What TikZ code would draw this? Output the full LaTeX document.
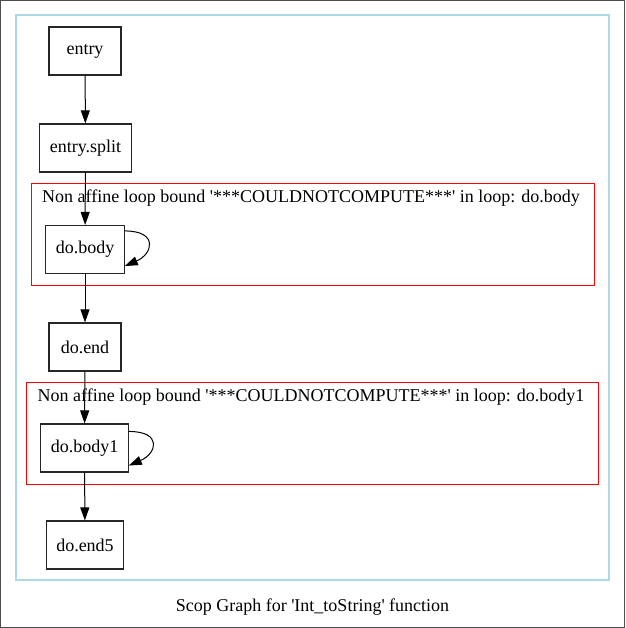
\documentclass[tikz,border=0pt]{standalone}
\usepackage{fontspec}
\setmainfont{Liberation Serif}
\usetikzlibrary{arrows.meta}
\definecolor{scopblue}{RGB}{173,216,230}
\newcommand{\sq}{\textquotesingle}
\begin{document}
\begin{tikzpicture}[x=1pt, y=1pt, font=\fontsize{18}{21}\selectfont,
    block/.style={draw=black!85, line width=1.1pt, minimum width=72pt, minimum height=48pt, inner xsep=10pt},
    flow/.style={-{Triangle[length=13pt,width=9pt]}, line width=1pt},
    loopbox/.style={draw=red, line width=0.9pt},
    scopbox/.style={draw=scopblue, line width=1.2pt}]
  \useasboundingbox (0,0) rectangle (625,628);
  \draw[black!70, line width=1pt] (0.5,0.5) rectangle (624.5,627.5);
  \draw[scopbox] (16,48) rectangle (609,613);
  \draw[loopbox] (31,343) rectangle (594,445);
  \draw[loopbox] (26,144) rectangle (598,246);
  \node (bodylabel) at (311,430) {Non affine loop bound \sq***COULDNOTCOMPUTE***\sq{} in loop: do.body};
  \node (body1label) at (311,231) {Non affine loop bound \sq***COULDNOTCOMPUTE***\sq{} in loop: do.body1};
  \node (caption) at (312.5,21) {Scop Graph for \sq Int\_toString\sq{} function};

  \node[block] (entry) at (85,577) {entry};
  \node[block] (split) at (85.5,480) {entry.split};
  \node[block] (body) at (85,378.5) {do.body};
  \node[block] (end) at (85,281) {do.end};
  \node[block] (body1) at (84.5,180) {do.body1};
  \node[block] (end5) at (85,83) {do.end5};

  \draw[flow] (entry) -- (split);
  \draw[flow] (split) -- (body);
  \draw[flow] (body) -- (end);
  \draw[flow] (end) -- (body1);
  \draw[flow] (body1) -- (end5);
  \draw[flow] ([yshift=-6pt]body.north east) .. controls +(34,0) and +(28,12) .. ([yshift=8pt]body.south east);
  \draw[flow] ([yshift=-8pt]body1.north east) .. controls +(34,0) and +(28,12) .. ([yshift=7pt]body1.south east);
\end{tikzpicture}
\end{document}
